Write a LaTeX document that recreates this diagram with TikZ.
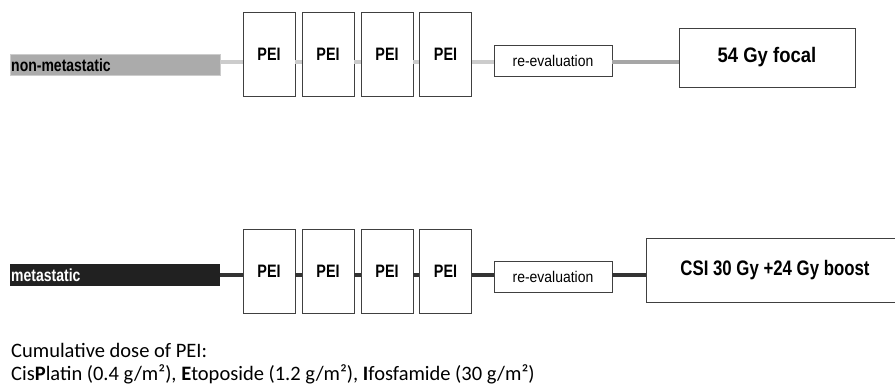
\documentclass[tikz,border=0pt]{standalone}
\usepackage{fontspec}
\setmainfont{Carlito}
\newfontfamily\arialA[FakeStretch=0.8]{Liberation Sans}
\newfontfamily\arialB[FakeStretch=0.88]{Liberation Sans}
\newfontfamily\arialC[FakeStretch=0.9]{Liberation Sans}
\begin{document}
\begin{tikzpicture}[x=1pt,y=-1pt,
  box/.style={draw=black!75,line width=0.9pt,fill=white,inner sep=0pt},
  pei/.style={box,minimum width=52pt,minimum height=84pt,font=\arialA\bfseries\fontsize{18}{20}\selectfont},
  reev/.style={box,minimum width=118pt,minimum height=31pt,font=\arialC\fontsize{15.5}{18}\selectfont},
  lighttrack/.style={draw=black!20,line width=4pt},
  midtrack/.style={draw=black!35,line width=4.5pt},
  darktrack/.style={draw=black!80,line width=4.5pt},
  lbl/.style={anchor=base west,inner sep=0pt,font=\arialA\bfseries\fontsize{17.5}{20}\selectfont}
]
\useasboundingbox (0,0) rectangle (895,384);
% top row
\coordinate (ytop) at (0,62);
\node[draw=black!20,fill=black!33,minimum width=210pt,minimum height=21pt,inner sep=0pt] (nm) at (115,64.5) {};
\node[lbl] (nmt) at (11,71.7) {non-metastatic};
\node[pei] (p1) at (269,54) {PEI};
\node[pei] (p2) at (328,54) {PEI};
\node[pei] (p3) at (387,54) {PEI};
\node[pei] (p4) at (445.5,54) {PEI};
\node[reev] (r1) at (553,60.5) {re-evaluation};
\node[box,minimum width=176pt,minimum height=59pt,font=\arialB\bfseries\fontsize{21}{24}\selectfont] (f1) at (767,57.5) {54 Gy focal};
\draw[lighttrack] (nm.east |- ytop) -- (p1.west |- ytop);
\draw[lighttrack] (p1.east |- ytop) -- (p2.west |- ytop);
\draw[lighttrack] (p2.east |- ytop) -- (p3.west |- ytop);
\draw[lighttrack] (p3.east |- ytop) -- (p4.west |- ytop);
\draw[lighttrack] (p4.east |- ytop) -- (r1.west |- ytop);
\draw[midtrack] (r1.east |- ytop) -- (f1.west |- ytop);
% bottom row
\coordinate (ybot) at (0,275);
\node[fill=black!87,minimum width=210pt,minimum height=22pt,inner sep=0pt] (mb) at (115,275) {};
\node[lbl,text=white] (mt) at (11,281.7) {metastatic};
\node[pei] (q1) at (269,271) {PEI};
\node[pei] (q2) at (328,271) {PEI};
\node[pei] (q3) at (387,271) {PEI};
\node[pei] (q4) at (445.5,271) {PEI};
\node[reev] (r2) at (553,276.5) {re-evaluation};
\node[box,minimum width=258pt,minimum height=64pt,font=\arialA\bfseries\fontsize{21}{24}\selectfont] (c1) at (775,270) {CSI 30 Gy +24 Gy boost};
\draw[darktrack] (mb.east |- ybot) -- (q1.west |- ybot);
\draw[darktrack] (q1.east |- ybot) -- (q2.west |- ybot);
\draw[darktrack] (q2.east |- ybot) -- (q3.west |- ybot);
\draw[darktrack] (q3.east |- ybot) -- (q4.west |- ybot);
\draw[darktrack] (q4.east |- ybot) -- (r2.west |- ybot);
\draw[darktrack] (r2.east |- ybot) -- (c1.west |- ybot);
% footnote
\node[anchor=base west,inner sep=0pt,font=\fontsize{20.5}{24}\selectfont] (n1) at (11,357) {Cumulative dose of PEI:};
\node[anchor=base west,inner sep=0pt,font=\fontsize{20.5}{24}\selectfont] (n2) at (11,380) {Cis\textbf{P}latin (0.4 g/m²), \textbf{E}toposide (1.2 g/m²), \textbf{I}fosfamide (30 g/m²)};
\end{tikzpicture}
\end{document}
